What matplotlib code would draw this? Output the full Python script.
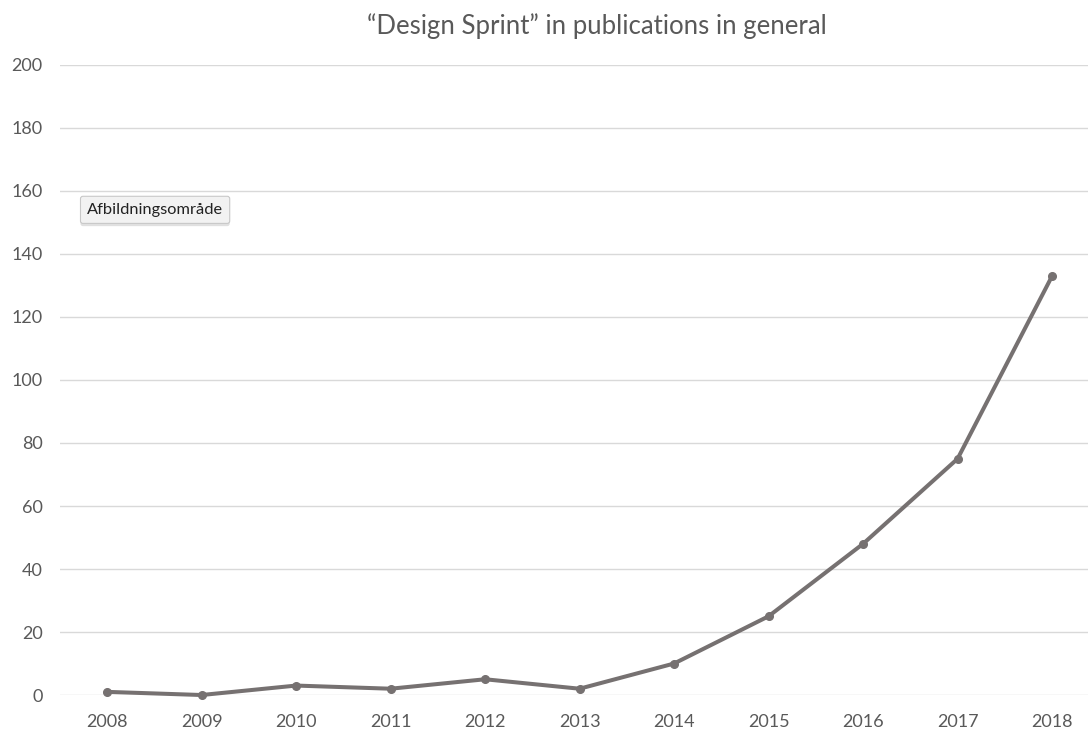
import matplotlib.pyplot as plt
import matplotlib.patheffects as pe

years = ['2008', '2009', '2010', '2011', '2012', '2013',
         '2014', '2015', '2016', '2017', '2018']
publications = [1, 0, 3, 2, 5, 2, 10, 25, 48, 75, 133]
y_ticks = list(range(0, 201, 20))

plt.rcParams['font.family'] = ['Lato', 'DejaVu Sans']
text_color = '#595959'
line_color = '#767171'

fig = plt.figure(figsize=(10.88, 7.35), dpi=100)
ax = fig.add_axes([0.055, 0.0544, 0.945, 0.8572])

x = list(range(len(years)))
ax.plot(x, publications, color=line_color, linewidth=2.9,
        marker='o', markersize=5.5, clip_on=False, zorder=3)

ax.set_xlim(-0.5, 10.38)
ax.set_ylim(0, 200)
ax.set_yticks(y_ticks)
ax.set_xticks(x)
ax.set_xticklabels(years)
ax.grid(axis='y', color='#d9d9d9', linewidth=1)
ax.set_axisbelow(True)
for s in ax.spines.values():
    s.set_visible(False)
ax.tick_params(length=0, labelsize=13, labelcolor=text_color)
ax.tick_params(axis='y', pad=12.5)
ax.tick_params(axis='x', pad=14)

fig.text(0.549, 0.965, '\u201cDesign Sprint\u201d in publications in general',
         ha='center', va='center', fontsize=18.5, color=text_color)

# hover label left over from the chart editor
fig.text(0.080, 0.7145, 'Afbildningsområde', ha='left', va='center',
         fontsize=11.8, color='#222222',
         bbox=dict(boxstyle='round,pad=0.4,rounding_size=0.15',
                   facecolor='#f2f2f2', edgecolor='#c8c8c8', linewidth=0.8,
                   path_effects=[pe.withSimplePatchShadow(offset=(0, -2),
                                                          shadow_rgbFace='#000000',
                                                          alpha=0.12)]))

fig.savefig('out.png', dpi=100)
